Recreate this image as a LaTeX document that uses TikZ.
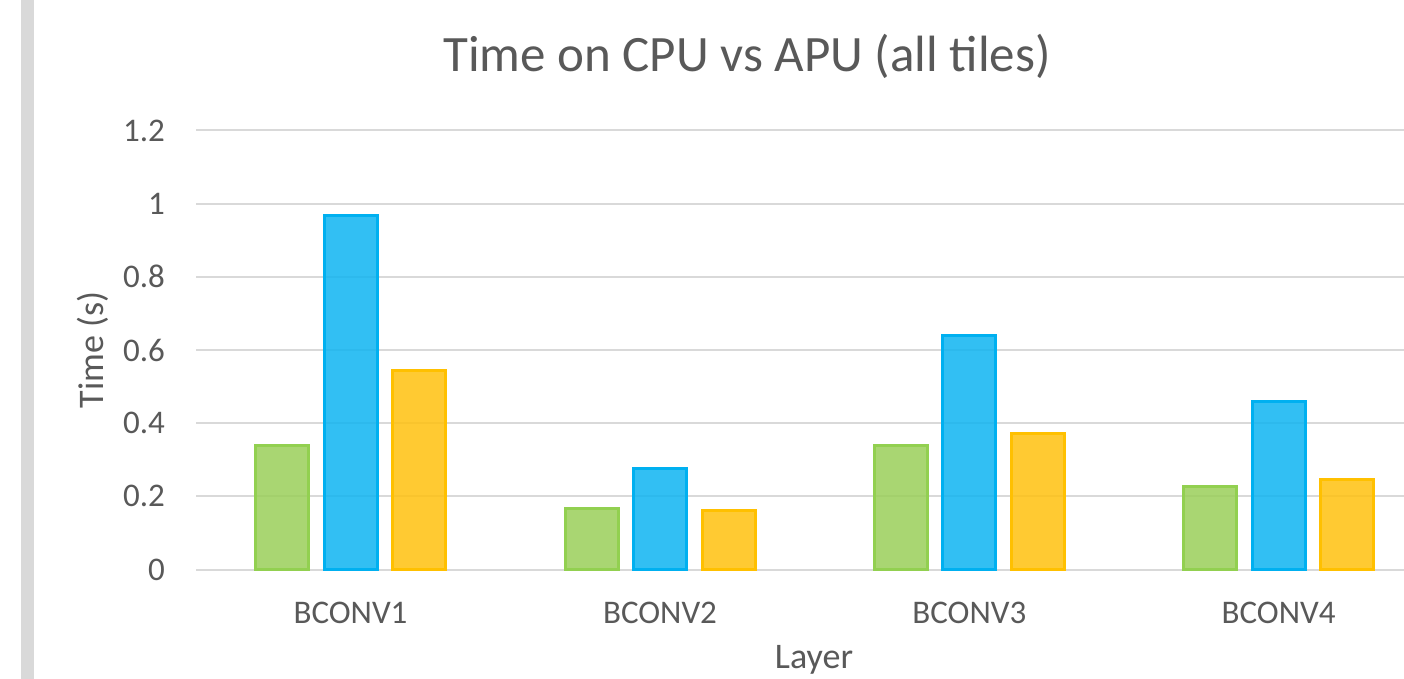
\documentclass[tikz,border=0pt]{standalone}
\usepackage{fontspec}
\setmainfont{Carlito}
\definecolor{txt}{HTML}{595959}
\definecolor{grid}{HTML}{D9D9D9}
\definecolor{side}{HTML}{D9D9D9}
\definecolor{gfill}{HTML}{9ACF5A}
\definecolor{gline}{HTML}{92D050}
\definecolor{bfill}{HTML}{0FB4F1}
\definecolor{bline}{HTML}{00B0F0}
\definecolor{yfill}{HTML}{FFC10F}
\definecolor{yline}{HTML}{FFC000}
\tikzset{
  gridline/.style={draw=grid, line width=2pt},
  barg/.style={fill=gfill, draw=gline, line width=3pt, fill opacity=0.85},
  barb/.style={fill=bfill, draw=bline, line width=3pt, fill opacity=0.85},
  bary/.style={fill=yfill, draw=yline, line width=3pt, fill opacity=0.85},
  ticklab/.style={text=txt, font=\fontsize{33}{38}\selectfont, anchor=east, inner sep=0pt},
  catlab/.style={text=txt, font=\fontsize{33}{38}\selectfont, inner sep=0pt},
  axtitle/.style={text=txt, font=\fontsize{36}{42}\selectfont, inner sep=0pt},
}
\begin{document}
\begin{tikzpicture}[x=1pt,y=-1pt]
\useasboundingbox (0,0) rectangle (1404,679);
\clip (0,0) rectangle (1404,679);
\fill[white] (0,0) rectangle (1404,679);
% side strip
\fill[side] (21,0) rectangle (34,679);
% title
\node[text=txt, font=\fontsize{51}{60}\selectfont, inner sep=0pt] (title) at (747,56) {Time on CPU vs APU (all tiles)};
% horizontal grid and tick labels
\foreach \k/\lab in {0/0,1/0.2,2/0.4,3/0.6,4/0.8,5/1,6/1.2}{
  \draw[gridline] (196,569.5-73.17*\k) -- (1404,569.5-73.17*\k);
  \node[ticklab] (t\k) at (165,569.5-73.17*\k) {\lab};
}
% bars: group centre, green, blue, yellow values
\foreach \i/\c/\vg/\vb/\vy in {1/350.5/0.34/0.969/0.543, 2/660/0.168/0.277/0.16, 3/969.3/0.34/0.641/0.373, 4/1278.6/0.228/0.46/0.247}{
  \draw[barg] (\c-68.5-26.5,569.5) rectangle (\c-68.5+26.5,569.5-365.8*\vg);
  \draw[barb] (\c-26.5,569.5) rectangle (\c+26.5,569.5-365.8*\vb);
  \draw[bary] (\c+68.5-26.5,569.5) rectangle (\c+68.5+26.5,569.5-365.8*\vy);
}
% category labels
\node[catlab] (c1) at (350.5,613) {BCONV1};
\node[catlab] (c2) at (660,613) {BCONV2};
\node[catlab] (c3) at (969.3,613) {BCONV3};
\node[catlab] (c4) at (1278.6,613) {BCONV4};
% axis titles
\node[axtitle, rotate=90] (ylab) at (93,350) {Time (s)};
\node[axtitle] (xlab) at (814,660) {Layer};
\end{tikzpicture}
\end{document}
